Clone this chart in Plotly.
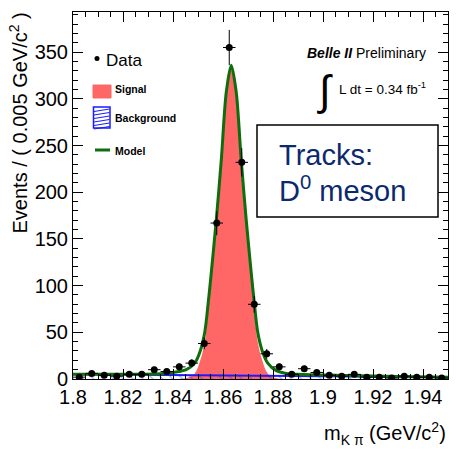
import numpy as np
import plotly.graph_objects as go

# Binned data: bin centres (bin width 0.005 GeV/c^2) and event counts
bin_centres = [1.8025, 1.8075, 1.8125, 1.8175, 1.8225, 1.8275, 1.8325, 1.8375,
               1.8425, 1.8475, 1.8525, 1.8575, 1.8625, 1.8675, 1.8725, 1.8775,
               1.8825, 1.8875, 1.8925, 1.8975, 1.9025, 1.9075, 1.9125, 1.9175,
               1.9225, 1.9275, 1.9325, 1.9375, 1.9425, 1.9475]
counts = [2, 6, 4, 3, 5, 5, 10, 8, 13, 17, 38, 167, 355, 232, 80, 27,
          13, 5, 11, 7, 4, 3, 5, 2, 2, 1, 3, 2, 2, 1]
half_bin = 0.0025

# Fitted model (signal + background)
model_x = [1.800, 1.820, 1.835, 1.8413, 1.8453, 1.8487, 1.8509, 1.8527, 1.8541,
           1.8551, 1.8573, 1.8593, 1.8613, 1.8633, 1.8653, 1.8673, 1.8693,
           1.8715, 1.8725, 1.8739, 1.8757, 1.8779, 1.8813, 1.8853, 1.890,
           1.910, 1.930, 1.950]
model_y = [5.0, 5.0, 5.6, 7.5, 10, 17, 30, 50, 82, 108, 170, 234, 307, 336,
           307, 234, 170, 108, 82, 50, 30, 17, 9, 6, 5, 3.8, 2.8, 2.0]

# Signal component
signal_x = [1.8413, 1.8453, 1.8487, 1.8509, 1.8527, 1.8541, 1.8551, 1.8573,
            1.8593, 1.8613, 1.8633, 1.8653, 1.8673, 1.8693, 1.8715, 1.8725,
            1.8739, 1.8757, 1.8779, 1.8813, 1.8853]
signal_y = [0, 1, 6, 20, 40, 74, 100, 163, 228, 301, 331, 301, 228, 163,
            100, 74, 40, 20, 6, 1, 0]

# Background component (linear)
bkg_x = [1.80, 1.95]
bkg_y = [5.0, 2.0]

x_range = [1.80, 1.95]
y_range = [0, 393]
x_ticks = [1.80, 1.82, 1.84, 1.86, 1.88, 1.90, 1.92, 1.94]
y_ticks = [0, 50, 100, 150, 200, 250, 300, 350]

W, H = 457, 453
L, R, T, B = 73, 9, 12, 74
PW, PH = W - L - R, H - T - B

def px(x):
    return (x - L) / PW

def py(y):
    return (H - B - y) / PH

FONT = "Liberation Sans, Arial, Helvetica, sans-serif"
RED = "#ff6666"
GREEN = "#0d6e0d"
BLUE = "#1a1aff"
NAVY = "#0b2a6e"

fig = go.Figure()

fig.add_trace(go.Scatter(
    x=signal_x, y=signal_y, mode="lines", line=dict(width=0, shape="spline"),
    fill="tozeroy", fillcolor=RED, hoverinfo="skip", showlegend=False))

fig.add_trace(go.Scatter(
    x=bkg_x, y=bkg_y, mode="lines", line=dict(color=BLUE, width=2),
    fill="tozeroy", fillcolor="rgba(0,0,0,0)",
    fillpattern=dict(shape="\\", fgcolor=BLUE, size=7, solidity=0.15,
                     fillmode="overlay"),
    hoverinfo="skip", showlegend=False))

fig.add_trace(go.Scatter(
    x=model_x, y=model_y, mode="lines",
    line=dict(color=GREEN, width=3, shape="spline", smoothing=0.8),
    showlegend=False))

counts_arr = np.array(counts, dtype=float)
fig.add_trace(go.Scatter(
    x=bin_centres, y=counts, mode="markers",
    marker=dict(color="black", size=7),
    error_y=dict(type="data", array=np.sqrt(counts_arr), color="black",
                 thickness=1, width=0),
    error_x=dict(type="constant", value=half_bin, color="black",
                 thickness=1, width=0),
    showlegend=False))

axis_common = dict(
    showline=True, linecolor="black", linewidth=1, mirror="allticks",
    ticks="inside", ticklen=10, tickcolor="black", tickwidth=1,
    showgrid=False, zeroline=False,
    tickfont=dict(family=FONT, size=20, color="black"),
)

fig.update_xaxes(range=x_range, tickvals=x_ticks,
                 ticktext=[f"{v:g}" for v in x_ticks],
                 minor=dict(ticks="inside", ticklen=5, dtick=0.005,
                            tick0=1.8, tickcolor="black"),
                 **axis_common)
fig.update_yaxes(range=y_range, tickvals=y_ticks,
                 minor=dict(ticks="inside", ticklen=5, dtick=10,
                            tick0=0, tickcolor="black"),
                 **axis_common)

shapes = []
ann = []

# Legend block
shapes.append(dict(type="circle", xref="paper", yref="paper",
                   x0=px(94.5), x1=px(99.5), y0=py(61), y1=py(56),
                   fillcolor="black", line=dict(width=0)))
ann.append(dict(text="Data", x=px(104), y=py(60), xanchor="left",
                yanchor="middle", font=dict(size=17)))
shapes.append(dict(type="rect", xref="paper", yref="paper",
                   x0=px(93), x1=px(111), y0=py(98), y1=py(85),
                   fillcolor=RED, line=dict(color=RED, width=1)))
ann.append(dict(text="<b>Signal</b>", x=px(113), y=py(89), xanchor="left",
                yanchor="middle", font=dict(size=10.5)))
shapes.append(dict(type="rect", xref="paper", yref="paper",
                   x0=px(93.5), x1=px(110), y0=py(128), y1=py(107),
                   fillcolor="white", line=dict(color=BLUE, width=1.5)))
hatch = ""
for k in range(6):
    y0 = 109 + 3.5 * k
    hatch += f"M{px(94)},{py(y0 + 2.5)} L{px(109.5)},{py(y0)} "
shapes.append(dict(type="path", xref="paper", yref="paper", path=hatch,
                   line=dict(color=BLUE, width=1)))
ann.append(dict(text="<b>Background</b>", x=px(113), y=py(118),
                xanchor="left", yanchor="middle", font=dict(size=10.5)))
shapes.append(dict(type="line", xref="paper", yref="paper",
                   x0=px(95), x1=px(110), y0=py(150), y1=py(150),
                   line=dict(color=GREEN, width=3)))
ann.append(dict(text="<b>Model</b>", x=px(113), y=py(151), xanchor="left",
                yanchor="middle", font=dict(size=10.5)))

# Experiment label and luminosity
ann.append(dict(text="<b><i>Belle II</i></b> Preliminary", x=px(428), y=py(53),
                xanchor="right", yanchor="middle", font=dict(size=14)))
ann.append(dict(text="\u222b", x=px(325), y=py(90), xanchor="center",
                yanchor="middle", font=dict(size=42)))
ann.append(dict(text="L dt = 0.34 fb<sup>-1</sup>", x=px(428), y=py(88),
                xanchor="right", yanchor="middle", font=dict(size=13.5)))

# Boxed label
shapes.append(dict(type="rect", xref="paper", yref="paper",
                   x0=px(257), x1=px(438), y0=py(217), y1=py(125),
                   fillcolor="white", line=dict(color="black", width=1.5)))
ann.append(dict(text="Tracks:", x=px(277), y=py(155), xanchor="left",
                yanchor="middle", font=dict(size=29, color=NAVY)))
ann.append(dict(text="D<sup>0</sup> meson", x=px(277), y=py(189),
                xanchor="left", yanchor="middle",
                font=dict(size=29, color=NAVY)))

# Axis titles
ann.append(dict(text="m<sub>K \u03c0</sub> (GeV/c<sup>2</sup>)", x=px(448),
                y=py(433), xanchor="right", yanchor="middle",
                font=dict(size=20)))
ann.append(dict(text="Events / ( 0.005 GeV/c<sup>2</sup> )", x=px(18),
                y=py(11), xanchor="center", yanchor="top", textangle=-90,
                font=dict(size=20)))

for a in ann:
    a.setdefault("xref", "paper")
    a.setdefault("yref", "paper")
    a["showarrow"] = False
    a["font"].setdefault("color", "black")
    a["font"]["family"] = FONT

fig.update_layout(
    width=W, height=H,
    margin=dict(l=L, r=R, t=T, b=B),
    paper_bgcolor="white", plot_bgcolor="white",
    shapes=shapes, annotations=ann,
    showlegend=False,
    font=dict(family=FONT, color="black"),
)

fig.write_html("out.html")
